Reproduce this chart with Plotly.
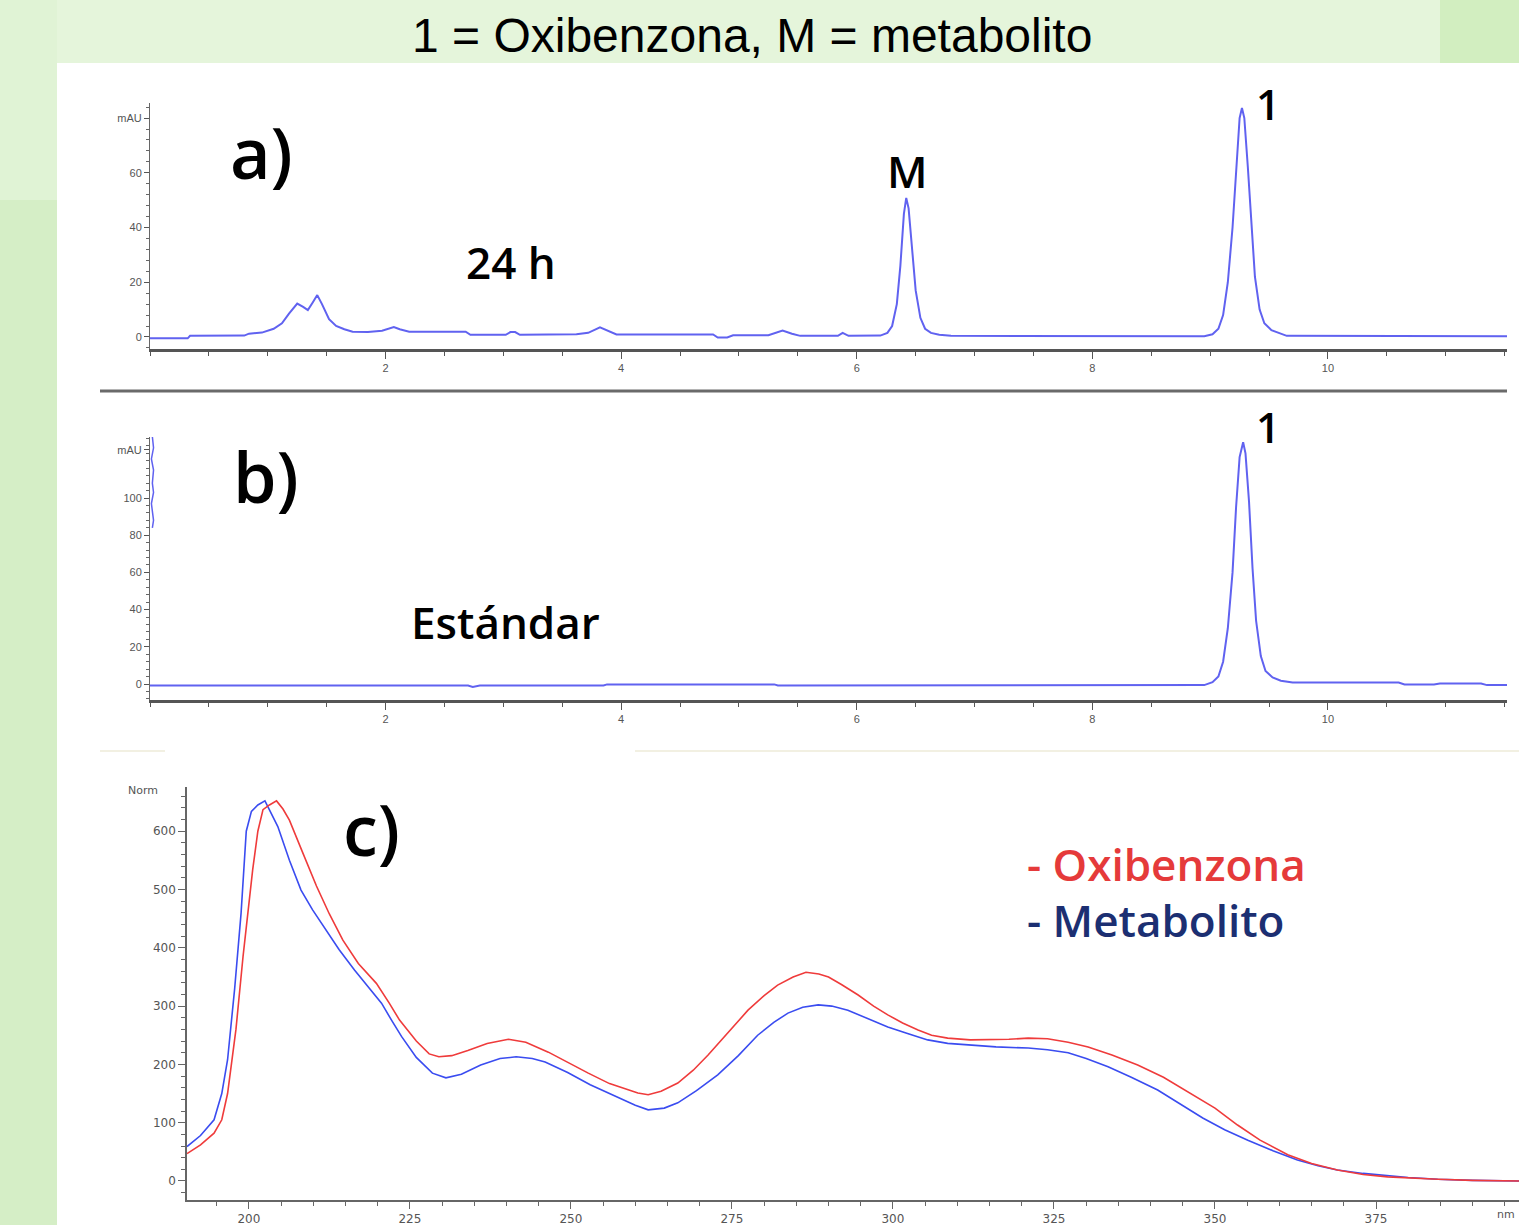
import plotly.graph_objects as go

W, H = 1519, 1225

# ---------------- data ----------------
# a) chromatogram 24 h (time in min, mAU)
a_time = [0, 0.32, 0.34, 0.80, 0.84, 0.95, 1.05, 1.12, 1.18, 1.25, 1.30, 1.34, 1.38, 1.42, 1.46,
          1.52, 1.58, 1.65, 1.72, 1.85, 1.97, 2.03, 2.07, 2.12, 2.20, 2.68, 2.72, 3.02, 3.06, 3.10,
          3.14, 3.62, 3.72, 3.82, 3.90, 3.96, 4.78, 4.82, 4.90, 4.95, 5.25, 5.32, 5.37, 5.45, 5.52,
          5.84, 5.88, 5.93, 6.20, 6.26, 6.30, 6.34, 6.37, 6.40, 6.42, 6.44, 6.47, 6.50, 6.54, 6.58,
          6.63, 6.70, 6.80, 8.95, 9.02, 9.07, 9.11, 9.15, 9.19, 9.22, 9.25, 9.27, 9.29, 9.32, 9.35,
          9.38, 9.42, 9.46, 9.52, 9.58, 9.65, 11.52]
a_mau = [-0.5, -0.5, 0.4, 0.5, 1.2, 1.6, 3.0, 5.0, 8.5, 12.2, 11.0, 9.8, 12.5, 15.3, 12.0,
         6.5, 4.0, 2.8, 1.9, 1.8, 2.3, 3.0, 3.6, 2.8, 1.9, 1.9, 0.8, 0.8, 1.8, 1.8,
         0.8, 1.0, 1.5, 3.5, 2.0, 0.9, 0.9, -0.2, -0.2, 0.6, 0.6, 1.6, 2.3, 1.2, 0.4,
         0.4, 1.5, 0.4, 0.5, 1.5, 4.0, 12.0, 26.0, 45.0, 50.8, 47.0, 33.0, 17.0, 7.0, 3.0,
         1.5, 0.8, 0.4, 0.3, 1.0, 3.0, 8.0, 20.0, 40.0, 62.0, 80.0, 83.7, 80.0, 62.0, 40.0,
         22.0, 10.0, 5.0, 2.5, 1.5, 0.4, 0.3]

# b) chromatogram standard
b_time = [0, 2.70, 2.74, 2.80, 3.85, 3.88, 5.30, 5.33, 8.95, 9.02, 9.07, 9.11, 9.15, 9.19, 9.22,
          9.25, 9.28, 9.30, 9.33, 9.36, 9.39, 9.43, 9.47, 9.53, 9.60, 9.70, 10.60, 10.65, 10.90,
          10.95, 11.30, 11.35, 11.52]
b_mau = [-0.8, -0.8, -1.6, -0.8, -0.8, -0.2, -0.2, -0.8, -0.6, 1.0, 4.0, 12.0, 30.0, 60.0, 95.0,
         122.0, 130.0, 124.0, 98.0, 62.0, 34.0, 15.0, 7.0, 3.5, 1.8, 0.8, 0.8, -0.3, -0.3,
         0.3, 0.3, -0.6, -0.6]
b_spike_time = [0.02, 0.03, 0.012, 0.03, 0.02, 0.03, 0.012, 0.03, 0.02]
b_spike_mau = [84, 88, 97, 103, 108, 115, 121, 127, 133]

# c) UV spectra (nm, Norm)
oxi_nm = [190.4, 192.5, 194.6, 195.8, 196.7, 198.0, 199.1, 200.0, 200.6, 201.4, 202.2, 203.2, 204.3,
          205.3, 206.3, 208.3, 210.5, 212.5, 214.6, 217.0, 219.8, 221.8, 223.4, 226.0, 228.0, 229.5,
          231.5, 234.0, 237.0, 240.3, 243.0, 246.5, 250.0, 252.7, 256.0, 260.4, 262.0, 264.0, 266.6,
          269.0, 271.3, 274.0, 277.5, 280.0, 282.1, 284.5, 286.5, 288.5, 290.0, 292.0, 294.6, 297.0,
          299.2, 301.5, 303.9, 306.0, 308.5, 312.0, 314.8, 318.0, 321.0, 324.0, 327.2, 330.3, 334.0,
          338.0, 342.0, 345.8, 350.0, 353.5, 357.0, 361.3, 365.0, 369.0, 373.0, 376.8, 380.0, 384.6,
          390.0, 397.2]
oxi_val = [47, 62, 82, 105, 150, 260, 385, 480, 534, 600, 637, 645, 652,
           638, 619, 565, 506, 458, 413, 373, 339, 305, 276, 240, 218, 213,
           215, 224, 236, 243, 238, 221, 200, 185, 167, 151, 148, 154, 168,
           190, 216, 250, 293, 318, 336, 350, 358, 355, 350, 337, 319, 300,
           285, 271, 259, 250, 245, 242, 242, 243, 245, 244, 238, 230, 216,
           199, 178, 153, 125, 96, 70, 45, 30, 19, 11, 7, 5, 3,
           1, 0]
met_nm = [190.4, 192.5, 194.6, 195.8, 196.7, 197.8, 198.8, 199.6, 200.4, 201.4, 202.5, 203.5, 204.5,
          206.3, 208.1, 209.9, 211.7, 214.0, 216.4, 218.5, 220.6, 222.2, 223.7, 226.0, 228.5, 230.6,
          233.0, 236.0, 239.0, 241.5, 244.0, 246.0, 249.5, 253.0, 257.0, 260.0, 262.0, 264.5, 266.6,
          269.5, 272.8, 276.0, 279.0, 281.5, 283.7, 286.0, 288.4, 290.5, 293.0, 296.0, 299.2, 302.5,
          305.4, 308.5, 311.6, 316.0, 321.0, 324.0, 327.2, 330.0, 333.4, 337.0, 341.1, 344.5, 348.1,
          351.5, 355.1, 359.0, 362.8, 366.0, 369.0, 373.0, 376.8, 380.0, 384.6, 390.0, 397.2]
met_val = [59, 78, 105, 150, 208, 330, 460, 600, 634, 645, 652, 630, 608,
           550, 499, 465, 436, 397, 362, 333, 305, 275, 248, 212, 185, 177,
           183, 199, 210, 213, 210, 204, 186, 165, 145, 130, 122, 125, 134,
           155, 182, 215, 250, 272, 288, 298, 302, 300, 293, 279, 264, 252,
           242, 236, 233, 230, 228, 225, 220, 210, 196, 178, 156, 133, 108,
           88, 70, 52, 36, 26, 19, 13, 9, 6, 3, 1, 0]

ab_tickvals = [2, 4, 6, 8, 10]
ab_ticktext = ["2", "4", "6", "8", "10"]
a_ytickvals = [0, 20, 40, 60, 80]
a_yticktext = ["0", "20", "40", "60", "mAU"]
b_ytickvals = [0, 20, 40, 60, 80, 100, 126]
b_yticktext = ["0", "20", "40", "60", "80", "100", "mAU"]
c_xtickvals = [200, 225, 250, 275, 300, 325, 350, 375]
c_ytickvals = [0, 100, 200, 300, 400, 500, 600]


def fx(px):
    return px / W


def fy(py):
    return 1 - py / H


CHROM = "#6062f0"
RED = "#ef3b3b"
BLUE = "#3a4cf0"

fig = go.Figure()
fig.add_trace(go.Scatter(x=a_time, y=a_mau, mode="lines", line=dict(color=CHROM, width=2),
                         xaxis="x", yaxis="y", showlegend=False))
fig.add_trace(go.Scatter(x=b_time, y=b_mau, mode="lines", line=dict(color=CHROM, width=2),
                         xaxis="x2", yaxis="y2", showlegend=False))
fig.add_trace(go.Scatter(x=b_spike_time, y=b_spike_mau, mode="lines", line=dict(color=CHROM, width=1.5),
                         xaxis="x2", yaxis="y2", showlegend=False, cliponaxis=False))
fig.add_trace(go.Scatter(x=met_nm, y=met_val, mode="lines", line=dict(color=BLUE, width=1.6),
                         xaxis="x3", yaxis="y3", name="Metabolito", showlegend=False))
fig.add_trace(go.Scatter(x=oxi_nm, y=oxi_val, mode="lines", line=dict(color=RED, width=1.6),
                         xaxis="x3", yaxis="y3", name="Oxibenzona", showlegend=False))

tickfont_ab = dict(family="Liberation Sans", size=11, color="#555")
tickfont_c = dict(family="DejaVu Sans", size=12, color="#555")

xab = dict(range=[0, 11.52], showgrid=False, zeroline=False, showline=True, linecolor="#555",
           linewidth=3, ticks="outside", ticklen=7, tickwidth=1, tickcolor="#555",
           tickvals=ab_tickvals, ticktext=ab_ticktext, tickfont=tickfont_ab,
           minor=dict(dtick=0.5, tick0=0, ticks="outside", ticklen=4, tickcolor="#555"))
yab = dict(showgrid=False, zeroline=False, showline=True, linecolor="#666", linewidth=1,
           ticks="outside", ticklen=5, tickcolor="#555", tickfont=tickfont_ab,
           minor=dict(dtick=4, tick0=0, ticks="outside", ticklen=3, tickcolor="#666"))

fig.update_layout(
    width=W, height=H,
    margin=dict(l=0, r=0, t=0, b=0),
    paper_bgcolor="#e5f5db",
    plot_bgcolor="rgba(0,0,0,0)",
    xaxis=dict(xab, domain=[fx(150), fx(1507)], anchor="y"),
    yaxis=dict(yab, domain=[fy(349), fy(103)], anchor="x", range=[-4.4, 85.5],
               tickvals=a_ytickvals, ticktext=a_yticktext),
    xaxis2=dict(xab, domain=[fx(150), fx(1507)], anchor="y2"),
    yaxis2=dict(yab, domain=[fy(700), fy(437)], anchor="x2", range=[-8.6, 132.8],
                tickvals=b_ytickvals, ticktext=b_yticktext),
    xaxis3=dict(domain=[fx(187), 1], anchor="y3", range=[190.4, 397.2], showgrid=False,
                zeroline=False, showline=True, linecolor="#666", linewidth=1.5,
                ticks="outside", ticklen=7, tickcolor="#666", tickvals=c_xtickvals,
                tickfont=tickfont_c,
                minor=dict(dtick=5, tick0=200, ticks="outside", ticklen=4, tickcolor="#666")),
    yaxis3=dict(domain=[fy(1200), fy(787)], anchor="x3", range=[-32.6, 675.8], showgrid=False,
                zeroline=False, showline=True, linecolor="#666", linewidth=1.5,
                ticks="outside", ticklen=7, tickcolor="#666", tickvals=c_ytickvals,
                tickfont=tickfont_c,
                minor=dict(dtick=20, tick0=0, ticks="outside", ticklen=4, tickcolor="#666")),
)

shapes = [
    dict(type="rect", xref="paper", yref="paper", x0=0, x1=fx(57), y0=0, y1=fy(0),
         fillcolor="#d5eec6", line=dict(width=0), layer="below"),
    dict(type="rect", xref="paper", yref="paper", x0=0, x1=fx(57), y0=fy(200), y1=1,
         fillcolor="#e0f3d5", line=dict(width=0), layer="below"),
    dict(type="rect", xref="paper", yref="paper", x0=fx(1440), x1=1, y0=fy(63), y1=1,
         fillcolor="#d2eec0", line=dict(width=0), layer="below"),
    dict(type="rect", xref="paper", yref="paper", x0=fx(57), x1=1, y0=0, y1=fy(63),
         fillcolor="white", line=dict(width=0), layer="below"),
    dict(type="line", xref="paper", yref="paper", x0=fx(100), x1=fx(1507), y0=fy(391), y1=fy(391),
         line=dict(color="#6a6a6a", width=3)),
    dict(type="line", xref="paper", yref="paper", x0=fx(100), x1=fx(165), y0=fy(751), y1=fy(751),
         line=dict(color="#eeebd8", width=1.5)),
    dict(type="line", xref="paper", yref="paper", x0=fx(635), x1=1, y0=fy(751), y1=fy(751),
         line=dict(color="#eeebd8", width=1.5)),
]
fig.update_layout(shapes=shapes)

LB = "Open Sans"


def ann(text, px, py, size, color="black", family=LB, xanchor="center", weight=600):
    return dict(text=text, x=fx(px), y=fy(py), xref="paper", yref="paper", showarrow=False,
                xanchor=xanchor, yanchor="middle",
                font=dict(family=family, size=size, color=color, weight=weight))


annotations = [
    ann("1 = Oxibenzona, M = metabolito", 752, 35, 48, family="Liberation Sans", weight="normal"),
    ann("a)", 261, 152, 70),
    ann("M", 907, 171, 44),
    ann("1", 1268, 103, 42),
    ann("24 h", 511, 262, 44),
    ann("b)", 266, 476, 70),
    ann("1", 1268, 427, 42),
    ann("Estándar", 505, 622, 44),
    ann("c)", 371, 829, 70),
    ann("- Oxibenzona", 1025, 864, 44, color="#e53a3a", xanchor="left"),
    ann("- Metabolito", 1025, 920, 44, color="#1c2f72", xanchor="left"),
    ann("Norm", 143, 790, 11, color="#555", family="DejaVu Sans", weight="normal"),
    ann("nm", 1517, 1214, 11, color="#555", family="DejaVu Sans", xanchor="right", weight="normal"),
]
fig.update_layout(annotations=annotations)

fig.write_html("out.html", config={"displayModeBar": False},
               post_script="document.body.style.margin='0px';document.body.style.overflow='hidden';")
